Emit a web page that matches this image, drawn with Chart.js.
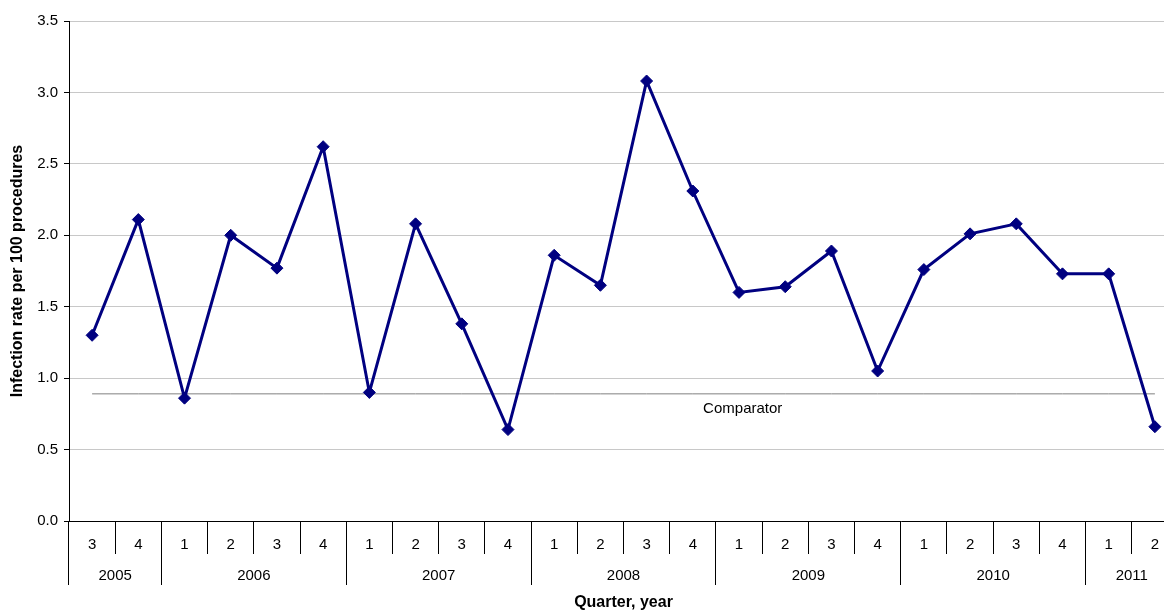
<!DOCTYPE html>
<html>
<head>
<meta charset="utf-8">
<script src="https://cdn.jsdelivr.net/npm/chart.js@4"></script>
<style>
  html, body { margin: 0; padding: 0; background: #fff; overflow: hidden; }
  #wrap { width: 1164px; height: 610px; overflow: hidden; }
</style>
</head>
<body>
<div id="wrap"><canvas id="rateChart" width="1185" height="610"></canvas></div>
<script>
// quarters from Q3 2005 to Q2 2011
const quarters = ["3", "4", "1", "2", "3", "4", "1", "2", "3", "4", "1", "2",
                  "3", "4", "1", "2", "3", "4", "1", "2", "3", "4", "1", "2"];
const years = ["2005", "2006", "2007", "2008", "2009", "2010", "2011"];
const yearSpans = [2, 4, 4, 4, 4, 4, 2];

const infectionRate = [1.30, 2.11, 0.86, 2.00, 1.77, 2.62, 0.90, 2.08, 1.38, 0.64, 1.86, 1.65,
                       3.08, 2.31, 1.60, 1.64, 1.89, 1.05, 1.76, 2.01, 2.08, 1.73, 1.73, 0.66];
const comparatorValue = 0.89;
const comparator = quarters.map(() => comparatorValue);

const FONT = "'Liberation Sans', Arial, sans-serif";

// same rounding Chart.js uses for 1px lines
const crisp = (p) => Math.round(p - 0.5) + 0.5;

// draws the quarter / year labels under the axis and the comparator label
const groupedAxis = {
  id: "groupedAxis",
  afterDraw(chart) {
    const ctx = chart.ctx;
    const x = chart.scales.x;
    const y = chart.scales.y;
    const bottom = chart.chartArea.bottom;
    const half = (x.getPixelForValue(1) - x.getPixelForValue(0)) / 2;

    ctx.save();
    ctx.fillStyle = "#000";
    ctx.textAlign = "center";
    ctx.textBaseline = "middle";
    ctx.font = "15px " + FONT;

    quarters.forEach((q, i) => {
      ctx.fillText(q, x.getPixelForValue(i), bottom + 24);
    });

    // year separators and labels
    ctx.strokeStyle = "#000";
    ctx.lineWidth = 1;
    let start = 0;
    years.forEach((yr, k) => {
      const end = start + yearSpans[k];
      const left = x.getPixelForValue(start) - half;
      const right = x.getPixelForValue(end - 1) + half;
      ctx.beginPath();
      ctx.moveTo(crisp(left), bottom);
      ctx.lineTo(crisp(left), bottom + 64);
      ctx.stroke();
      ctx.fillText(yr, (left + right) / 2, bottom + 55);
      start = end;
    });

    ctx.font = "bold 16px " + FONT;
    ctx.fillText("Quarter, year", (chart.chartArea.left + chart.chartArea.right) / 2, bottom + 82);

    ctx.font = "15px " + FONT;
    ctx.fillText("Comparator", x.getPixelForValue(14.08), y.getPixelForValue(comparatorValue) + 15);
    ctx.restore();
  }
};

new Chart(document.getElementById("rateChart"), {
  type: "line",
  data: {
    labels: quarters,
    datasets: [
      {
        label: "Infection rate",
        data: infectionRate,
        borderColor: "#000080",
        backgroundColor: "#000080",
        borderWidth: 3,
        pointStyle: "rectRot",
        pointRadius: 6,
        pointBorderWidth: 1,
        tension: 0,
        order: 0
      },
      {
        label: "Comparator",
        data: comparator,
        borderColor: "#808080",
        borderWidth: 1,
        pointRadius: 0,
        order: 1
      }
    ]
  },
  options: {
    responsive: false,
    devicePixelRatio: 1,
    animation: false,
    layout: { padding: { top: 21, right: 0, bottom: 0, left: 0 } },
    plugins: {
      legend: { display: false },
      tooltip: { enabled: false }
    },
    scales: {
      x: {
        offset: true,
        grid: {
          display: true,
          drawOnChartArea: false,
          offset: true,
          tickLength: 33,
          color: "#000",
          tickColor: "#000"
        },
        border: { color: "#000", width: 1 },
        ticks: { display: false },
        afterFit(scale) { scale.height = 89; }
      },
      y: {
        min: 0,
        max: 3.5,
        ticks: {
          stepSize: 0.5,
          padding: 6,
          color: "#000",
          font: { family: FONT, size: 15 },
          callback: (v) => Number(v).toFixed(1)
        },
        grid: { color: "#c8c8c8", tickColor: "#000", tickLength: 5 },
        border: { color: "#000", width: 1 },
        title: {
          display: true,
          text: "Infection rate per 100 procedures",
          color: "#000",
          font: { family: FONT, size: 16, weight: "bold" },
          padding: { top: 8, bottom: 0 }
        },
        afterFit(scale) { scale.width = 69; }
      }
    }
  },
  plugins: [groupedAxis]
});
</script>
</body>
</html>
